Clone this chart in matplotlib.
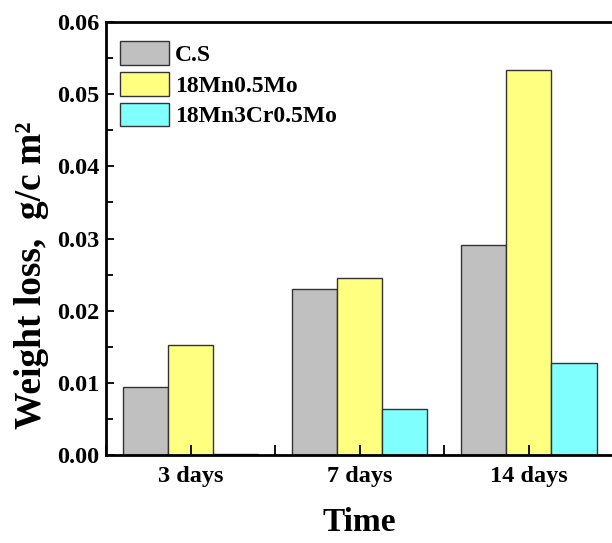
import numpy as np
import matplotlib.pyplot as plt
from matplotlib.ticker import MultipleLocator

plt.rcParams['font.family'] = ['Liberation Serif', 'DejaVu Serif']
plt.rcParams['font.weight'] = 'bold'

# data
groups = ['3 days', '7 days', '14 days']
series = ['C.S', '18Mn0.5Mo', '18Mn3Cr0.5Mo']
cs = [0.0094, 0.0230, 0.0291]
mn = [0.0153, 0.0245, 0.0533]
mncr = [0.0002, 0.0064, 0.0127]
colors = ['#C0C0C0', '#FFFF80', '#80FFFF']

fig = plt.figure(figsize=(6.12, 5.43), dpi=100)
ax = fig.add_axes([0.1732, 0.162, 0.829, 0.7975])

x = np.arange(1, len(groups) + 1)
w = 0.267
for i, (vals, name) in enumerate(zip([cs, mn, mncr], series)):
    ax.bar(x + (i - 1) * w, vals, width=w, color=colors[i], edgecolor='#333333',
           linewidth=1.0, label=name)

ax.set_xlim(0.5, 3.5)
ax.set_ylim(0, 0.06)
ax.set_xticks(x)
ax.set_xticklabels(groups)
ax.xaxis.set_minor_locator(MultipleLocator(0.5))
ax.yaxis.set_major_locator(MultipleLocator(0.01))
ax.yaxis.set_minor_locator(MultipleLocator(0.005))
ax.yaxis.set_major_formatter(plt.FormatStrFormatter('%.2f'))

ax.tick_params(which='both', direction='in', width=1.3, labelsize=17.5)
ax.tick_params(which='major', length=6, pad=5)
ax.tick_params(which='minor', length=5)
ax.tick_params(axis='x', which='both', length=7, pad=8)
ax.tick_params(top=False, right=False, which='both')
for s in ax.spines.values():
    s.set_linewidth(2)

ax.set_xlabel('Time', fontsize=24, fontweight='bold', labelpad=14)
ax.set_ylabel('Weight loss,  g/c m²', fontsize=27, fontweight='bold')
ax.yaxis.set_label_coords(-0.113, 0.416)

leg = ax.legend(loc='upper left', bbox_to_anchor=(0.027, 0.955), frameon=False,
                fontsize=17, handlelength=2.1, handleheight=1.15,
                handletextpad=0.25, labelspacing=0.25, borderaxespad=0,
                borderpad=0)

fig.savefig('out.png', dpi=100)
